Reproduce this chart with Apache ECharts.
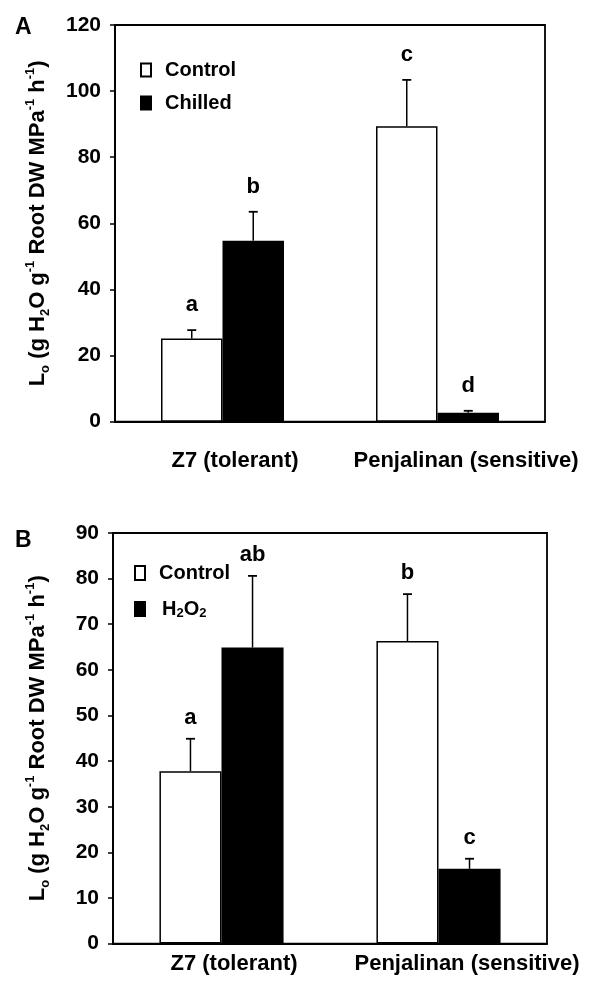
<!DOCTYPE html>
<html>
<head>
<meta charset="utf-8">
<script src="https://cdn.jsdelivr.net/npm/echarts@6/dist/echarts.min.js"></script>
<style>html,body{margin:0;padding:0;background:#fff;}#c{width:591px;height:985px;}</style>
</head>
<body>
<div id="c"></div>
<script>
// ---- data ----
var categories = ['Z7 (tolerant)', 'Penjalinan (sensitive)'];
// Panel A
var aControl = [25.2, 89.4];
var aControlErr = [27.7, 103.4];
var aChilled = [54.7, 2.7];
var aChilledErr = [63.5, 3.3];
var aControlLetters = ['a', 'c'];
var aChilledLetters = ['b', 'd'];
var aTicks = [0, 120, 20];
// Panel B
var bControl = [37.8, 66.3];
var bControlErr = [44.9, 76.6];
var bH2O2 = [64.9, 16.4];
var bH2O2Err = [80.6, 18.6];
var bControlLetters = ['a', 'b'];
var bH2O2Letters = ['ab', 'c'];
var bTicks = [0, 90, 10];

var FONT = 'Liberation Sans, Arial, sans-serif';
var BARW = 0.286;

var yName = '{m|L}{sub|o}{m| (g H}{sub|2}{m|O g}{sup|-1}{m| Root DW MPa}{sup|-1}{m| h}{sup|-1}{m|)}';
var yRich = {
  m: {fontSize: 22, fontWeight: 'bold', fontFamily: FONT, color: '#000', lineHeight: 28},
  sub: {fontSize: 13, fontWeight: 'bold', fontFamily: FONT, color: '#000', lineHeight: 28, verticalAlign: 'bottom'},
  sup: {fontSize: 13, fontWeight: 'bold', fontFamily: FONT, color: '#000', lineHeight: 28, verticalAlign: 'top'}
};

function makeErr(idx, vals, tops, letters, grp, gap) {
  var data = tops.map(function (v, i) { return [i, v, vals[i], letters[i], grp]; });
  return {
    type: 'custom', xAxisIndex: idx, yAxisIndex: idx, silent: true, z: 5,
    renderItem: function (params, api) {
      var ci = api.value(0);
      var top = api.coord([ci, api.value(1)]);
      var base = api.coord([ci, api.value(2)]);
      var cw = api.size([1, 0])[0];
      var x = top[0] + (api.value(4) - 0.5) * cw * BARW;
      var cap = 4.5;
      return {
        type: 'group',
        children: [
          {type: 'line', shape: {x1: x, y1: base[1], x2: x, y2: top[1]}, style: {stroke: '#000', lineWidth: 1.5}},
          {type: 'line', shape: {x1: x - cap, y1: top[1], x2: x + cap, y2: top[1]}, style: {stroke: '#000', lineWidth: 1.8}},
          {type: 'text', x: x, y: top[1] - gap, style: {text: data[params.dataIndex][3], fontSize: 22, fontWeight: 'bold', fontFamily: FONT, fill: '#000', align: 'center', verticalAlign: 'bottom'}}
        ]
      };
    },
    data: data
  };
}

var xLabelRich = {
  c0: {fontSize: 22, fontWeight: 'bold', fontFamily: FONT, color: '#000', padding: [0, 0, 0, 25]},
  c1: {fontSize: 22, fontWeight: 'bold', fontFamily: FONT, color: '#000', padding: [0, 0, 0, 57]}
};
function xLabelFmt(v, i) { return '{c' + i + '|' + v + '}'; }

function makeBar(idx, name, vals, fill) {
  return {
    type: 'bar', name: name, xAxisIndex: idx, yAxisIndex: idx, data: vals,
    barWidth: (BARW * 100) + '%', barGap: '0%',
    itemStyle: {color: fill, borderColor: '#000', borderWidth: 1.5},
    emphasis: {disabled: true}, z: 3
  };
}

function yAxis(idx, t, gap) {
  return {
    type: 'value', gridIndex: idx, min: t[0], max: t[1], interval: t[2],
    name: yName, nameLocation: 'middle', nameRotate: 90, nameGap: gap,
    nameTextStyle: {rich: yRich},
    axisLine: {show: true, lineStyle: {color: '#000', width: 1.8}},
    axisTick: {show: true, length: 5, lineStyle: {color: '#000', width: 1.5}},
    axisLabel: {color: '#000', fontSize: 21, fontWeight: 'bold', fontFamily: FONT, margin: 14},
    splitLine: {show: false}
  };
}
function xAxis(idx, margin) {
  return {
    type: 'category', gridIndex: idx, data: categories,
    axisLine: {show: true, lineStyle: {color: '#000', width: 1.8}},
    axisTick: {show: false},
    axisLabel: {formatter: xLabelFmt, rich: xLabelRich, margin: margin, interval: 0},
    splitLine: {show: false}
  };
}

var legendText = {fontSize: 20, fontWeight: 'bold', fontFamily: FONT, color: '#000', lineHeight: 20, padding: [0, 0, 0, 9],
  rich: {
    m: {fontSize: 20, fontWeight: 'bold', fontFamily: FONT, color: '#000', lineHeight: 22},
    h: {fontSize: 20, fontWeight: 'bold', fontFamily: FONT, color: '#000', lineHeight: 22, padding: [0, 0, 0, 3]},
    s: {fontSize: 13, fontWeight: 'bold', fontFamily: FONT, color: '#000', lineHeight: 22, verticalAlign: 'bottom'}
  }};

var option = {
  animation: false,
  backgroundColor: '#fff',
  grid: [
    {left: 115, right: 46, top: 25, height: 396.7, show: true, borderColor: '#000', borderWidth: 1.8, backgroundColor: 'transparent'},
    {left: 113, right: 44, top: 533, height: 410.6, show: true, borderColor: '#000', borderWidth: 1.8, backgroundColor: 'transparent'}
  ],
  xAxis: [xAxis(0, 28), xAxis(1, 9)],
  yAxis: [yAxis(0, aTicks, 63), yAxis(1, bTicks, 61)],
  legend: [
    {left: 135, top: 54, orient: 'vertical', itemWidth: 10, itemHeight: 13, itemGap: 11, icon: 'rect',
      data: ['Control', 'Chilled'], textStyle: legendText, selectedMode: false,
      formatter: function (n) { return '{m|' + n + '}'; }},
    {left: 129, top: 557, orient: 'vertical', itemWidth: 10, itemHeight: 14, itemGap: 14, icon: 'rect',
      data: ['Control', 'H2O2'], textStyle: legendText, selectedMode: false,
      formatter: function (n) { return n === 'H2O2' ? '{h|H}{s|2}{m|O}{s|2}' : '{m|' + n + '}'; }}
  ],
  graphic: [
    {type: 'text', left: 15, top: 16, style: {text: 'A', fontSize: 23, fontWeight: 'bold', fontFamily: FONT, fill: '#000'}},
    {type: 'text', left: 15, top: 529, style: {text: 'B', fontSize: 23, fontWeight: 'bold', fontFamily: FONT, fill: '#000'}}
  ],
  series: [
    makeBar(0, 'Control', aControl, '#fff'),
    makeBar(0, 'Chilled', aChilled, '#000'),
    makeErr(0, aControl, aControlErr, aControlLetters, 0, 14),
    makeErr(0, aChilled, aChilledErr, aChilledLetters, 1, 14),
    makeBar(1, 'Control', bControl, '#fff'),
    makeBar(1, 'H2O2', bH2O2, '#000'),
    makeErr(1, bControl, bControlErr, bControlLetters, 0, 10),
    makeErr(1, bH2O2, bH2O2Err, bH2O2Letters, 1, 10)
  ]
};
var chart = echarts.init(document.getElementById('c'), null, {renderer: 'canvas'});
chart.setOption(option);
</script>
</body>
</html>
